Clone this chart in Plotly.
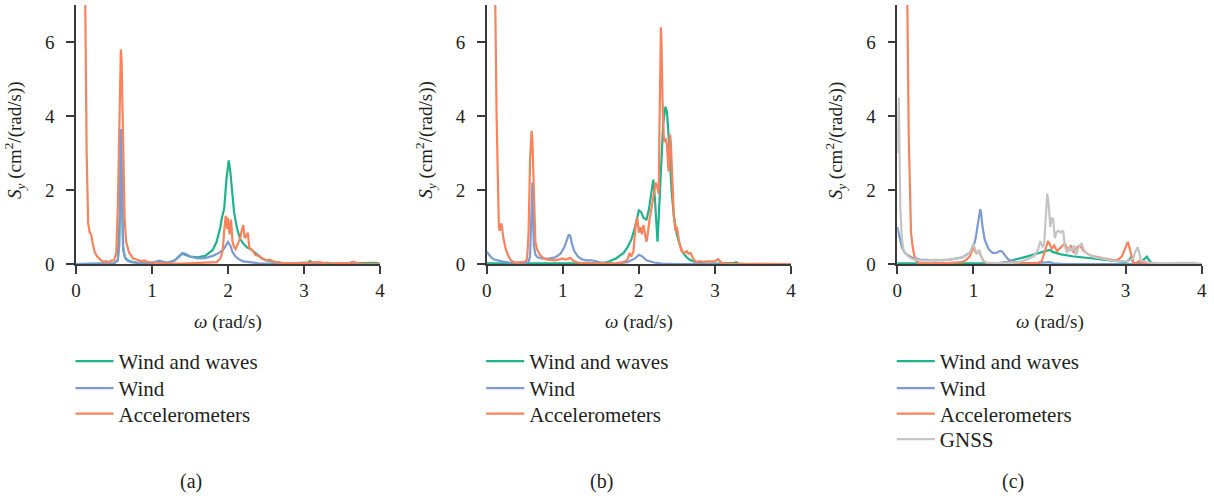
import plotly.graph_objects as go

# ---------------- data ----------------
# Panel (a)
A_ww_x = [0, 0.5, 0.55, 0.58, 0.59, 0.6, 0.61, 0.62, 0.65, 0.7, 0.8, 1.0, 1.1, 1.2, 1.3, 1.4, 1.5, 1.6, 1.7, 1.8,
          1.85, 1.9, 1.92, 1.95, 1.98, 2.0, 2.01, 2.03, 2.05, 2.08, 2.12, 2.16, 2.2, 2.25, 2.3, 2.35, 2.4, 2.45,
          2.5, 2.6, 2.7, 2.8, 2.9, 3.0, 3.05, 3.08, 3.12, 3.2, 3.3, 3.4, 3.9, 3.95, 4.0]
A_ww_y = [0, 0.02, 0.1, 1.5, 3.6, 2.5, 1.0, 0.4, 0.15, 0.08, 0.03, 0.03, 0.08, 0.03, 0.1, 0.28, 0.2, 0.18, 0.22, 0.38,
          0.6, 1.0, 1.25, 1.5, 2.3, 2.75, 2.8, 2.5, 2.0, 1.4, 0.95, 0.68, 0.55, 0.45, 0.4, 0.32, 0.25, 0.15,
          0.1, 0.06, 0.03, 0.02, 0.02, 0.02, 0.04, 0.08, 0.02, 0.02, 0.03, 0.01, 0.01, 0.03, 0.0]

A_wind_x = [0, 0.3, 0.5, 0.55, 0.57, 0.58, 0.59, 0.6, 0.61, 0.62, 0.64, 0.67, 0.72, 0.8, 0.9, 1.0, 1.05, 1.1, 1.15,
            1.2, 1.25, 1.3, 1.35, 1.4, 1.45, 1.5, 1.6, 1.7, 1.8, 1.9, 1.95, 2.0, 2.03, 2.06, 2.1, 2.15, 2.2, 2.3,
            2.4, 2.6, 3.0, 4.0]
A_wind_y = [0, 0.0, 0.02, 0.1, 0.5, 1.5, 3.65, 2.5, 1.0, 0.45, 0.2, 0.1, 0.05, 0.03, 0.02, 0.03, 0.05, 0.09, 0.05,
            0.03, 0.05, 0.1, 0.2, 0.3, 0.27, 0.2, 0.15, 0.16, 0.22, 0.32, 0.42, 0.6, 0.5, 0.32, 0.2, 0.12, 0.07, 0.04,
            0.02, 0.01, 0, 0]

A_acc_x = [0.08, 0.12, 0.14, 0.16, 0.18, 0.2, 0.22, 0.25, 0.28, 0.3, 0.33, 0.36, 0.4, 0.43, 0.46, 0.5, 0.53, 0.55,
           0.57, 0.58, 0.59, 0.6, 0.61, 0.62, 0.64, 0.66, 0.68, 0.7, 0.72, 0.75, 0.8, 0.85, 0.9, 0.95, 1.0, 1.1,
           1.2, 1.4, 1.6, 1.75, 1.85, 1.9, 1.93, 1.95, 1.97, 1.99, 2.0, 2.02, 2.04, 2.06, 2.08, 2.1, 2.13, 2.16,
           2.18, 2.2, 2.22, 2.24, 2.26, 2.28, 2.3, 2.33, 2.36, 2.4, 2.45, 2.5, 2.55, 2.6, 2.7, 2.8, 2.9, 3.0, 3.1,
           3.2, 3.3, 3.4, 3.5, 3.6, 3.65, 3.7, 3.8, 4.0]
A_acc_y = [30, 7.5, 3.0, 1.1, 0.85, 0.8, 0.55, 0.3, 0.2, 0.15, 0.1, 0.06, 0.08, 0.05, 0.09, 0.1, 0.3, 1.5,
           4.0, 5.6, 5.8, 5.5, 4.5, 2.8, 1.2, 0.6, 0.45, 0.3, 0.25, 0.15, 0.12, 0.08, 0.1, 0.05, 0.04, 0.02,
           0.02, 0.01, 0.02, 0.03, 0.05, 0.15, 0.35, 0.9, 1.3, 0.95, 1.25, 0.8, 1.2, 0.6, 0.45, 0.4, 0.55, 0.7,
           0.9, 1.05, 0.7, 0.75, 0.85, 0.45, 0.4, 0.35, 0.25, 0.22, 0.15, 0.1, 0.12, 0.06, 0.03, 0.02, 0.02, 0.03,
           0.03, 0.05, 0.01, 0.01, 0.01, 0.03, 0.06, 0.02, 0.0, 0.0]

# Panel (b)
B_ww_x = [0, 0.5, 0.7, 1.0, 1.3, 1.5, 1.6, 1.7, 1.8, 1.85, 1.9, 1.95, 2.0, 2.03, 2.06, 2.1, 2.13, 2.16, 2.19, 2.21,
          2.23, 2.245, 2.26, 2.28, 2.3, 2.32, 2.35, 2.37, 2.39, 2.41, 2.43, 2.46, 2.5, 2.54, 2.58, 2.63, 2.68,
          2.75, 2.85, 3.0, 3.2, 3.25, 3.28, 3.31, 3.4, 4.0]
B_ww_y = [0.02, 0.02, 0.03, 0.02, 0.01, 0.02, 0.06, 0.15, 0.3, 0.45, 0.65, 1.0, 1.45, 1.4, 1.25, 1.2, 1.45, 1.9,
          2.28, 1.8, 1.0, 0.6, 1.2, 2.0, 3.0, 3.8, 4.25, 4.1, 3.5, 2.6, 2.0, 1.3, 0.8, 0.5, 0.3, 0.18, 0.1,
          0.05, 0.02, 0.01, 0.01, 0.03, 0.05, 0.01, 0.0, 0.0]

B_wind_x = [0, 0.03, 0.06, 0.1, 0.15, 0.2, 0.3, 0.4, 0.5, 0.55, 0.57, 0.58, 0.59, 0.6, 0.61, 0.62, 0.64, 0.67, 0.72,
            0.8, 0.9, 0.97, 1.02, 1.05, 1.08, 1.1, 1.12, 1.15, 1.2, 1.25, 1.3, 1.38, 1.45, 1.55, 1.7, 1.85, 1.95,
            2.0, 2.05, 2.1, 2.2, 2.3, 2.5, 3.0, 4.0]
B_wind_y = [0.33, 0.25, 0.18, 0.12, 0.09, 0.07, 0.04, 0.03, 0.03, 0.05, 0.2, 0.8, 1.8, 2.2, 1.2, 0.5, 0.25, 0.18,
            0.15, 0.14, 0.18, 0.28, 0.45, 0.62, 0.8, 0.75, 0.55, 0.35, 0.2, 0.13, 0.1, 0.1, 0.07, 0.02, 0.01,
            0.05, 0.15, 0.25, 0.2, 0.1, 0.04, 0.01, 0.0, 0.0, 0.0]

B_acc_x = [0.08, 0.11, 0.13, 0.15, 0.16, 0.17, 0.18, 0.19, 0.2, 0.21, 0.22, 0.25, 0.28, 0.3, 0.33, 0.36, 0.4, 0.45,
           0.5, 0.53, 0.55, 0.57, 0.58, 0.59, 0.6, 0.61, 0.62, 0.64, 0.66, 0.68, 0.7, 0.75, 0.8, 0.9, 0.95, 1.0,
           1.03, 1.06, 1.1, 1.15, 1.2, 1.3, 1.5, 1.7, 1.8, 1.85, 1.88, 1.9, 1.93, 1.96, 1.98, 2.0, 2.02, 2.04,
           2.06, 2.08, 2.1, 2.12, 2.14, 2.17, 2.2, 2.22, 2.24, 2.26, 2.27, 2.28, 2.29, 2.3, 2.31, 2.33, 2.35,
           2.37, 2.39, 2.4, 2.41, 2.42, 2.44, 2.46, 2.48, 2.5, 2.53, 2.56, 2.6, 2.63, 2.65, 2.68, 2.72, 2.76,
           2.8, 2.85, 2.9, 2.95, 3.0, 3.04, 3.07, 3.1, 3.2, 3.5, 4.0]
B_acc_y = [30, 7.5, 4.0, 1.8, 1.0, 0.9, 0.95, 1.1, 1.05, 0.85, 0.7, 0.4, 0.22, 0.15, 0.08, 0.05, 0.04, 0.05,
           0.06, 0.12, 0.8, 2.8, 3.5, 3.6, 3.4, 2.5, 1.5, 0.6, 0.4, 0.3, 0.25, 0.15, 0.12, 0.1, 0.12, 0.15,
           0.12, 0.13, 0.16, 0.07, 0.04, 0.02, 0.01, 0.02, 0.05, 0.12, 0.3, 0.2, 0.35, 1.1, 1.25, 0.85, 1.0, 0.8,
           1.05, 0.75, 0.6, 0.85, 1.2, 1.55, 1.9, 2.2, 2.1, 1.9, 3.5, 5.5, 6.4, 5.8, 4.5, 3.3, 3.4,
           3.2, 2.5, 3.0, 3.5, 3.3, 2.2, 1.3, 0.9, 1.0, 0.6, 0.35, 0.3, 0.35, 0.28, 0.3, 0.12, 0.05,
           0.08, 0.06, 0.07, 0.08, 0.07, 0.13, 0.06, 0.02, 0.01, 0.0, 0.0]

# Panel (c)
C_ww_x = [0, 0.5, 1.0, 1.3, 1.45, 1.55, 1.7, 1.85, 1.95, 2.0, 2.05, 2.15, 2.3, 2.5, 2.7, 2.9, 3.0, 3.04, 3.07,
          3.1, 3.13, 3.2, 3.25, 3.28, 3.31, 3.35, 4.0]
C_ww_y = [0.02, 0.02, 0.02, 0.02, 0.05, 0.12, 0.2, 0.3, 0.36, 0.38, 0.32, 0.26, 0.21, 0.17, 0.12, 0.07, 0.05, 0.1,
          0.18, 0.05, 0.0, 0.05, 0.15, 0.2, 0.1, 0.0, 0.0]

C_wind_x = [0, 0.03, 0.06, 0.1, 0.15, 0.2, 0.3, 0.5, 0.7, 0.85, 0.95, 1.0, 1.03, 1.06, 1.08, 1.09, 1.1, 1.12, 1.15,
            1.2, 1.25, 1.3, 1.35, 1.38, 1.42, 1.46, 1.5, 1.6, 1.8, 1.95, 2.0, 2.05, 2.2, 4.0]
C_wind_y = [1.0, 0.7, 0.45, 0.3, 0.22, 0.17, 0.12, 0.1, 0.12, 0.18, 0.3, 0.45, 0.7, 1.1, 1.4, 1.48, 1.4, 1.0, 0.65,
            0.4, 0.3, 0.3, 0.35, 0.33, 0.22, 0.12, 0.08, 0.03, 0.02, 0.03, 0.05, 0.02, 0.0, 0.0]

C_acc_x = [0.1, 0.13, 0.15, 0.17, 0.18, 0.2, 0.22, 0.25, 0.28, 0.35, 0.5, 0.7, 0.85, 0.9, 0.95, 0.98, 1.0, 1.02,
           1.04, 1.07, 1.1, 1.13, 1.17, 1.25, 1.4, 1.5, 1.55, 1.7, 1.85, 1.9, 1.93, 1.96, 1.98, 2.0, 2.03, 2.06,
           2.1, 2.15, 2.2, 2.25, 2.28, 2.32, 2.36, 2.4, 2.45, 2.5, 2.55, 2.6, 2.65, 2.7, 2.75, 2.8, 2.85, 2.9,
           2.95, 2.98, 3.01, 3.03, 3.05, 3.08, 3.1, 3.13, 3.18, 3.22, 3.28, 3.35, 4.0]
C_acc_y = [30, 7.5, 3.5, 1.5, 0.85, 0.5, 0.25, 0.08, 0.03, 0.02, 0.02, 0.03, 0.05, 0.1, 0.2, 0.35, 0.45, 0.35,
           0.3, 0.35, 0.2, 0.08, 0.03, 0.02, 0.02, 0.06, 0.02, 0.02, 0.03, 0.08, 0.3, 0.45, 0.62, 0.55, 0.4, 0.5,
           0.35, 0.45, 0.55, 0.35, 0.5, 0.3, 0.45, 0.5, 0.35, 0.28, 0.22, 0.2, 0.18, 0.15, 0.13, 0.12, 0.1, 0.12,
           0.2, 0.35, 0.5, 0.6, 0.45, 0.15, 0.03, 0.02, 0.08, 0.03, 0.01, 0.0, 0.0]

C_gnss_x = [0, 0.01, 0.02, 0.03, 0.04, 0.06, 0.08, 0.1, 0.15, 0.2, 0.3, 0.4, 0.5, 0.6, 0.7, 0.8, 0.9, 0.95, 1.0,
            1.03, 1.06, 1.08, 1.1, 1.13, 1.17, 1.25, 1.4, 1.6, 1.7, 1.8, 1.85, 1.88, 1.91, 1.93, 1.95, 1.97, 1.99,
            2.01, 2.03, 2.05, 2.07, 2.09, 2.12, 2.15, 2.18, 2.2, 2.23, 2.26, 2.29, 2.32, 2.35, 2.38, 2.42, 2.46,
            2.5, 2.55, 2.6, 2.7, 2.8, 2.9, 3.0, 3.05, 3.1, 3.13, 3.16, 3.18, 3.2, 3.23, 3.27, 3.3, 3.4, 3.5, 3.7,
            3.9, 4.0]
C_gnss_y = [3.0, 4.2, 4.5, 3.0, 1.5, 0.7, 0.4, 0.3, 0.2, 0.13, 0.1, 0.1, 0.12, 0.1, 0.13, 0.15, 0.22, 0.3, 0.55,
            0.35, 0.3, 0.38, 0.2, 0.08, 0.04, 0.03, 0.02, 0.05, 0.12, 0.22, 0.4, 0.62, 0.45, 0.55, 1.2, 1.9, 1.6,
            1.0, 1.25, 1.2, 0.7, 0.85, 0.9, 0.85, 0.9, 0.5, 0.3, 0.45, 0.35, 0.5, 0.25, 0.45, 0.55, 0.35,
            0.28, 0.22, 0.18, 0.15, 0.1, 0.08, 0.07, 0.1, 0.15, 0.35, 0.45, 0.3, 0.1, 0.08, 0.05, 0.04, 0.03,
            0.02, 0.03, 0.03, 0.0]

x_ticks = [0, 1, 2, 3, 4]
y_ticks = [0, 2, 4, 6]
panel_labels = ["(a)", "(b)", "(c)"]

# ---------------- styling ----------------
W, H = 1214, 498
FONT = "Liberation Serif, Times New Roman, DejaVu Serif, serif"
TXT = "#231f20"
AX = "#3a3a3a"
COLORS = {"Wind and waves": "#1fb28c", "Wind": "#7d9bd1", "Accelerometers": "#f7845c", "GNSS": "#c4c4c4"}

panels = [
    {"x0": 76.0, "x1": 380.0, "series": [("Wind and waves", A_ww_x, A_ww_y), ("Wind", A_wind_x, A_wind_y),
                                          ("Accelerometers", A_acc_x, A_acc_y)]},
    {"x0": 486.7, "x1": 791.0, "series": [("Wind and waves", B_ww_x, B_ww_y), ("Wind", B_wind_x, B_wind_y),
                                           ("Accelerometers", B_acc_x, B_acc_y)]},
    {"x0": 897.3, "x1": 1201.7, "series": [("Wind and waves", C_ww_x, C_ww_y), ("Wind", C_wind_x, C_wind_y),
                                            ("Accelerometers", C_acc_x, C_acc_y), ("GNSS", C_gnss_x, C_gnss_y)]},
]
Y_TOP, Y_BOT = 5.0, 264.0
LEGEND_ROW_CENTERS = [361, 388, 413.5, 439]

fig = go.Figure()
layout = dict(
    width=W, height=H, margin=dict(l=0, r=0, t=0, b=0, autoexpand=False),
    paper_bgcolor="white", plot_bgcolor="white",
    font=dict(family=FONT, color=TXT, size=18),
    showlegend=True,
)
annotations = []
k = 0
for i, p in enumerate(panels):
    n = "" if i == 0 else str(i + 1)
    for j, (name, xs, ys) in enumerate(p["series"]):
        k += 1
        leg = "legend" if k == 1 else f"legend{k}"
        fig.add_trace(go.Scatter(
            x=xs, y=ys, mode="lines", name=name,
            line=dict(color=COLORS[name], width=2.2),
            xaxis=f"x{n}", yaxis=f"y{n}", legend=leg, showlegend=True,
        ))
        layout[leg] = dict(x=(p["x0"] - 5.5) / W, y=1 - (LEGEND_ROW_CENTERS[j] - 20) / H,
                           xanchor="left", yanchor="top",
                           font=dict(family=FONT, size=21, color=TXT), bgcolor="rgba(0,0,0,0)",
                           itemwidth=38)
    dx = [p["x0"] / W, p["x1"] / W]
    dy = [1 - Y_BOT / H, 1 - Y_TOP / H]
    axis_common = dict(showline=True, linecolor=AX, linewidth=1.5, ticks="outside", ticklen=8,
                       tickwidth=1.5, tickcolor=AX, showgrid=False, zeroline=False, automargin=False,
                       tickfont=dict(family=FONT, size=19, color=TXT), layer="below traces")
    layout[f"xaxis{n}"] = dict(domain=dx, range=[0, 4], tickvals=x_ticks, anchor=f"y{n}", **axis_common)
    layout[f"yaxis{n}"] = dict(domain=dy, range=[0, 7], tickvals=y_ticks, anchor=f"x{n}",
                               ticklabelstandoff=8, **axis_common)
    cx = (p["x0"] + p["x1"]) / 2
    annotations.append(dict(text="<i>ω</i> (rad/s)", x=cx / W, y=1 - 322 / H, xref="paper", yref="paper",
                            xanchor="center", yanchor="middle", showarrow=False,
                            font=dict(family=FONT, size=19, color=TXT)))
    annotations.append(dict(text="<i>S</i><sub><i>y</i></sub> (cm<sup>2</sup>/(rad/s))",
                            x=(p["x0"] - 61) / W, y=1 - 140 / H, xref="paper", yref="paper",
                            xanchor="center", yanchor="middle", textangle=-90, showarrow=False,
                            font=dict(family=FONT, size=19, color=TXT)))
    annotations.append(dict(text=panel_labels[i], x=(cx - 37) / W, y=1 - 481 / H, xref="paper", yref="paper",
                            xanchor="center", yanchor="middle", showarrow=False,
                            font=dict(family=FONT, size=20, color=TXT)))
layout["annotations"] = annotations
fig.update_layout(**layout)
fig.write_html("out.html")
